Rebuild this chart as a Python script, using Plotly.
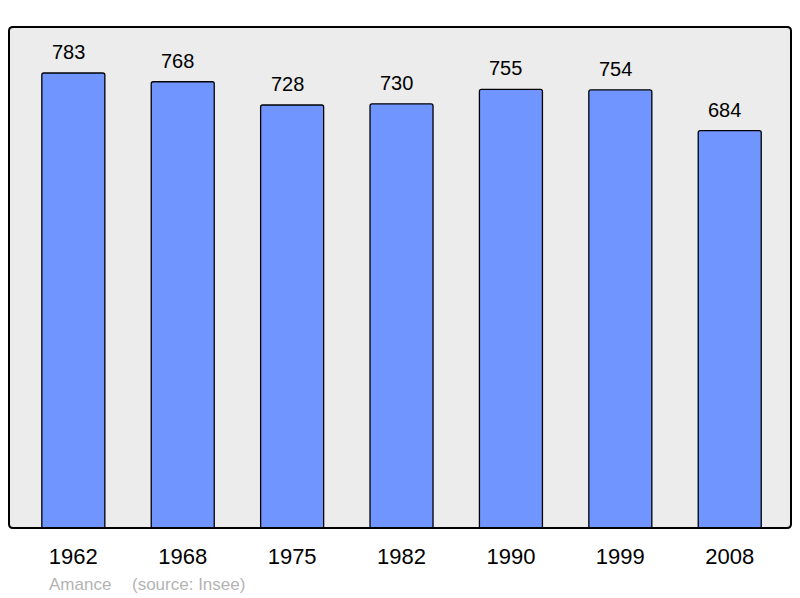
import plotly.graph_objects as go

years = ["1962", "1968", "1975", "1982", "1990", "1999", "2008"]
population = [783, 768, 728, 730, 755, 754, 684]
caption_name = "Amance"
caption_source = "(source: Insee)"

fig = go.Figure()
fig.add_trace(go.Bar(
    x=years, y=population, width=0.576,
    marker=dict(color="#7095ff", line=dict(color="black", width=1.3), cornerradius=2),
    hoverinfo="skip",
))

for i, v in enumerate(population):
    fig.add_annotation(x=i, y=v, text=str(v), showarrow=False, yanchor="bottom",
                       yshift=8, xshift=-5, font=dict(size=20, color="black"))

fig.add_annotation(xref="paper", yref="paper", x=(47 - 9) / 782, y=-0.112, xanchor="left",
                   yanchor="middle", text=caption_name, showarrow=False,
                   font=dict(size=17, color="#b4b4b4"))
fig.add_annotation(xref="paper", yref="paper", x=(130 - 9) / 782, y=-0.112, xanchor="left",
                   yanchor="middle", text=caption_source, showarrow=False,
                   font=dict(size=17, color="#b4b4b4"))

rx, ry = 4 / 782, 4 / 501
path = (f"M {rx},0 L {1-rx},0 Q 1,0 1,{ry} L 1,{1-ry} Q 1,1 {1-rx},1 "
        f"L {rx},1 Q 0,1 0,{1-ry} L 0,{ry} Q 0,0 {rx},0 Z")
fig.add_shape(type="path", xref="paper", yref="paper", path=path,
              line=dict(color="black", width=2), layer="above")

fig.update_layout(
    width=800, height=598,
    margin=dict(l=9, r=9, t=27, b=70, autoexpand=False),
    paper_bgcolor="white", plot_bgcolor="#ececec",
    font=dict(family="Liberation Sans, Arial, sans-serif"),
    showlegend=False,
    xaxis=dict(type="category", range=[-0.588, 6.56], showgrid=False, zeroline=False,
               ticks="", ticklabelstandoff=13, tickfont=dict(size=22, color="black"),
               fixedrange=True),
    yaxis=dict(range=[0, 862.2], showgrid=False, zeroline=False, showticklabels=False,
               fixedrange=True),
)

fig.write_html("out.html", config={"displayModeBar": False},
               post_script="document.body.style.margin='0';document.body.style.overflow='hidden';")
